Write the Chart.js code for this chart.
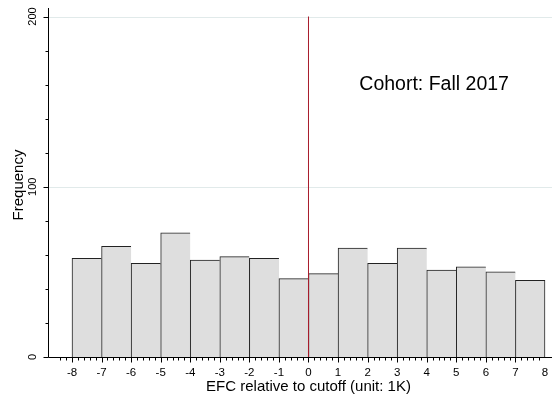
<!DOCTYPE html>
<html>
<head>
<meta charset="utf-8">
<script src="https://cdn.jsdelivr.net/npm/chart.js@4"></script>
<style>
  body { margin: 0; background: #fff; }
  #wrap { width: 552px; height: 398px; }
</style>
</head>
<body>
<div id="wrap"><canvas id="histChart" width="552" height="398"></canvas></div>
<script>
// bins of 1K EFC, left edges
const binStarts = [-8, -7, -6, -5, -4, -3, -2, -1, 0, 1, 2, 3, 4, 5, 6, 7];
const frequencies = [58, 65, 55, 73, 57, 59, 58, 46, 49, 64, 55, 64, 51, 53, 50, 45];
const xTickLabels = [-8, -7, -6, -5, -4, -3, -2, -1, 0, 1, 2, 3, 4, 5, 6, 7, 8];
const yTickLabels = [0, 100, 200];
const yGridValues = [100, 200];
const cutoffValue = 0;
const noteText = "Cohort: Fall 2017";

const FONT = "'Liberation Sans', Arial, Helvetica, sans-serif";

const axesPlugin = {
   id: "stataAxes",
   beforeDatasetsDraw(chart) {
      const { ctx, chartArea, scales } = chart;
      ctx.save();
      ctx.strokeStyle = "#e1eaea";
      ctx.lineWidth = 1;
      yGridValues.forEach((v) => {
         const y = Math.round(scales.y.getPixelForValue(v)) + 0.5;
         ctx.beginPath();
         ctx.moveTo(chartArea.left, y);
         ctx.lineTo(chartArea.right, y);
         ctx.stroke();
      });
      ctx.restore();
   },
   afterDatasetsDraw(chart) {
      const { ctx, chartArea, scales } = chart;
      const xs = scales.x;
      const ys = scales.y;
      const axisY = Math.round(ys.getPixelForValue(0)) + 0.5;
      const axisX = Math.round(chartArea.left) + 0.5;
      ctx.save();
      ctx.strokeStyle = "#000";
      ctx.lineWidth = 1;

      // axis lines
      ctx.beginPath();
      ctx.moveTo(axisX, chartArea.top);
      ctx.lineTo(axisX, axisY);
      ctx.lineTo(chartArea.right, axisY);
      ctx.stroke();

      // x ticks: major every 1, minor every 0.2
      ctx.beginPath();
      for (let k = -42; k <= 39; k++) {
         const v = k / 5;
         const major = k % 5 === 0;
         const x = Math.round(xs.getPixelForValue(v)) + 0.5;
         ctx.moveTo(x, axisY);
         ctx.lineTo(x, axisY + (major ? 5 : 3));
      }
      // y ticks: major every 100, minor every 20
      for (let v = 0; v <= 200; v += 20) {
         const major = v % 100 === 0;
         const y = Math.round(ys.getPixelForValue(v)) + 0.5;
         ctx.moveTo(axisX, y);
         ctx.lineTo(axisX - (major ? 5 : 3), y);
      }
      ctx.stroke();

      ctx.fillStyle = "#000";
      // x tick labels
      ctx.font = "11.5px " + FONT;
      ctx.textAlign = "center";
      ctx.textBaseline = "alphabetic";
      xTickLabels.forEach((v) => {
         ctx.fillText(String(v), xs.getPixelForValue(v), 376);
      });

      // y tick labels, rotated
      ctx.font = "11px " + FONT;
      yTickLabels.forEach((v) => {
         ctx.save();
         ctx.translate(33, ys.getPixelForValue(v));
         ctx.rotate(-Math.PI / 2);
         ctx.textAlign = "center";
         ctx.textBaseline = "middle";
         ctx.fillText(String(v), 0, 0);
         ctx.restore();
      });

      // axis titles
      ctx.font = "15px " + FONT;
      ctx.textAlign = "center";
      ctx.textBaseline = "alphabetic";
      ctx.fillText("EFC relative to cutoff (unit: 1K)", xs.getPixelForValue(0), 391);

      ctx.save();
      ctx.translate(23, 185);
      ctx.rotate(-Math.PI / 2);
      ctx.fillText("Frequency", 0, 0);
      ctx.restore();

      // cohort note
      ctx.font = "19.5px " + FONT;
      ctx.textAlign = "center";
      ctx.fillText(noteText, xs.getPixelForValue(4.25), ys.getPixelForValue(157));
      ctx.restore();
   },
};

const lastBar = frequencies.length - 1;

new Chart(document.getElementById("histChart").getContext("2d"), {
   type: "bar",
   data: {
      datasets: [
         {
            type: "line",
            label: "cutoff",
            data: [{ x: cutoffValue, y: 0 }, { x: cutoffValue, y: 200 }],
            borderColor: "#a81c2c",
            borderWidth: 1,
            pointRadius: 0,
            order: 0,
         },
         {
            label: "Frequency",
            data: binStarts.map((b, i) => ({ x: b + 0.5, y: frequencies[i] })),
            backgroundColor: "#dedede",
            borderColor: "#222222",
            borderWidth: (c) => ({ top: 1, left: 1, right: c.dataIndex === lastBar ? 1 : 0, bottom: 0 }),
            borderSkipped: false,
            barPercentage: 1,
            categoryPercentage: 1,
            order: 1,
         },
      ],
   },
   options: {
      responsive: false,
      animation: false,
      layout: { padding: { left: 48, right: 0, top: 8, bottom: 41 } },
      scales: {
         x: { type: "linear", display: false, min: -8.812, max: 8.237, offset: false },
         y: { type: "linear", display: false, min: 0, max: 205 },
      },
      plugins: {
         legend: { display: false },
         tooltip: { enabled: false },
      },
   },
   plugins: [axesPlugin],
});
</script>
</body>
</html>
